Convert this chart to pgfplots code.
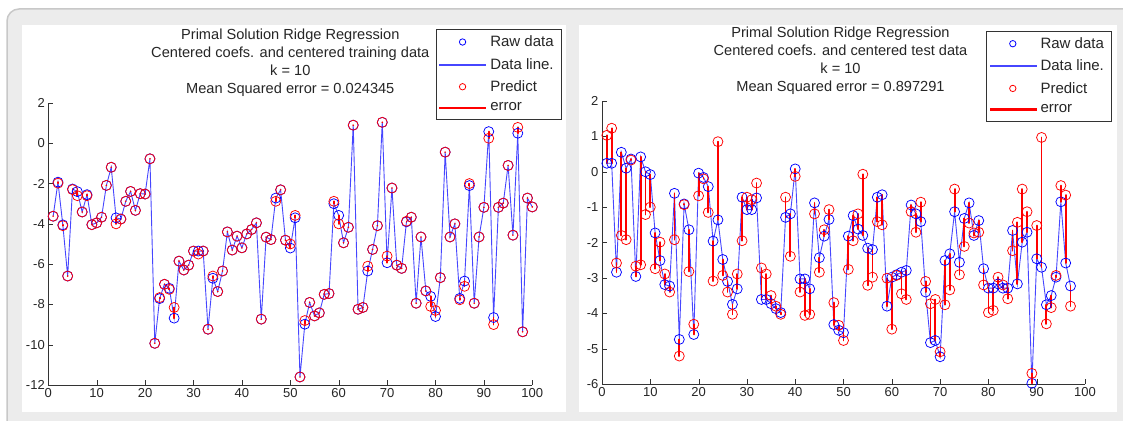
\documentclass[border=0pt]{standalone}
\usepackage{pgfplots}
\usepackage{pgfplotstable}
\usepackage{fontspec}
\setmainfont{Liberation Sans}
\pgfplotsset{compat=1.18}

\pgfplotstableread{
x r p
1 -3.62 -3.62
2 -1.93 -1.98
3 -4.05 -4.09
4 -6.59 -6.59
5 -2.27 -2.30
6 -2.40 -2.60
7 -3.41 -3.41
8 -2.55 -2.60
9 -4.04 -4.04
10 -3.95 -3.95
11 -3.67 -3.67
12 -2.09 -2.09
13 -1.19 -1.19
14 -3.70 -4.00
15 -3.76 -3.76
16 -2.88 -2.88
17 -2.39 -2.39
18 -3.33 -3.33
19 -2.50 -2.50
20 -2.52 -2.52
21 -0.77 -0.77
22 -9.93 -9.93
23 -7.71 -7.66
24 -7.00 -7.00
25 -7.20 -7.25
26 -8.68 -8.15
27 -5.85 -5.85
28 -6.29 -6.29
29 -6.05 -6.05
30 -5.35 -5.35
31 -5.35 -5.50
32 -5.35 -5.35
33 -9.23 -9.23
34 -6.70 -6.59
35 -7.36 -7.36
36 -6.34 -6.34
37 -4.40 -4.40
38 -5.30 -5.30
39 -4.61 -4.61
40 -5.19 -5.19
41 -4.50 -4.50
42 -4.28 -4.28
43 -3.95 -3.95
44 -8.73 -8.73
45 -4.66 -4.66
46 -4.78 -4.78
47 -2.72 -2.88
48 -2.31 -2.31
49 -4.81 -4.81
50 -5.20 -5.00
51 -3.70 -3.58
52 -11.60 -11.60
53 -8.98 -8.80
54 -7.90 -7.90
55 -8.57 -8.57
56 -8.42 -8.42
57 -7.50 -7.50
58 -7.46 -7.46
59 -3.00 -2.88
60 -3.58 -4.00
61 -4.94 -4.94
62 -4.17 -4.17
63 0.90 0.90
64 -8.24 -8.24
65 -8.15 -8.15
66 -6.34 -6.10
67 -5.27 -5.27
68 -4.09 -4.09
69 1.04 1.04
70 -5.93 -5.60
71 -2.22 -2.22
72 -6.05 -6.05
73 -6.21 -6.21
74 -3.90 -3.87
75 -3.67 -3.67
76 -7.94 -7.94
77 -4.65 -4.65
78 -7.33 -7.33
79 -7.60 -8.10
80 -8.60 -8.30
81 -6.67 -6.67
82 -0.44 -0.44
83 -4.65 -4.65
84 -4.00 -4.00
85 -7.70 -7.77
86 -6.84 -7.10
87 -2.10 -2.00
88 -7.94 -7.94
89 -4.65 -4.65
90 -3.18 -3.18
91 0.58 0.25
92 -8.65 -9.00
93 -3.18 -3.18
94 -2.97 -2.97
95 -1.10 -1.10
96 -4.56 -4.56
97 0.50 0.79
98 -9.36 -9.36
99 -2.72 -2.72
100 -3.16 -3.16
}\traindata

\pgfplotstableread{
x r p
1 0.24 1.03
2 0.24 1.23
3 -2.84 -2.58
4 0.55 -1.80
5 0.10 -1.92
6 0.36 0.33
7 -2.96 -2.67
8 0.42 -2.63
9 0.00 -1.21
10 -0.08 -1.00
11 -1.73 -2.74
12 -2.51 -1.99
13 -3.19 -2.89
14 -3.23 -3.40
15 -0.61 -1.92
16 -4.74 -5.21
17 -0.91 -0.93
18 -1.64 -2.82
19 -4.60 -4.31
20 -0.04 -0.68
21 -0.16 -0.20
22 -0.42 -1.15
23 -1.96 -3.09
24 -1.36 0.85
25 -2.48 -2.93
26 -3.10 -3.40
27 -3.75 -4.03
28 -3.31 -2.89
29 -0.72 -1.95
30 -1.07 -0.72
31 -1.07 -0.79
32 -0.74 -0.32
33 -3.61 -2.72
34 -3.61 -2.89
35 -3.73 -3.50
36 -3.87 -3.80
37 -3.98 -4.03
38 -1.29 -0.72
39 -1.19 -2.39
40 0.08 -0.13
41 -3.03 -3.40
42 -3.03 -4.06
43 -3.31 -4.03
44 -0.88 -1.19
45 -2.43 -2.84
46 -1.82 -1.64
47 -1.35 -1.07
48 -4.32 -3.70
49 -4.48 -4.34
50 -4.55 -4.77
51 -1.82 -2.76
52 -1.24 -1.95
53 -1.62 -1.19
54 -1.80 -0.07
55 -2.16 -3.21
56 -2.20 -2.98
57 -0.72 -1.41
58 -0.65 -1.50
59 -3.80 -3.01
60 -2.98 -4.45
61 -2.91 -2.93
62 -2.84 -3.45
63 -2.79 -3.61
64 -0.94 -1.13
65 -1.19 -1.71
66 -1.41 -0.86
67 -3.40 -3.10
68 -4.83 -3.73
69 -4.77 -3.61
70 -5.23 -5.09
71 -2.51 -3.76
72 -2.32 -3.34
73 -1.13 -0.49
74 -2.56 -2.91
75 -1.32 -2.11
76 -0.88 -1.45
77 -1.80 -1.73
78 -1.38 -1.71
79 -2.74 -3.20
80 -3.29 -3.98
81 -3.29 -3.92
82 -3.17 -2.98
83 -3.29 -3.20
84 -3.29 -3.59
85 -1.66 -2.23
86 -3.17 -1.43
87 -1.99 -0.49
88 -1.71 -1.13
89 -5.98 -5.70
90 -2.46 -1.52
91 -2.70 0.97
92 -3.76 -4.30
93 -3.50 -3.84
94 -2.98 -2.93
95 -0.85 -0.39
96 -2.58 -0.66
97 -3.23 -3.80
}\testdata

\definecolor{lineblue}{RGB}{70,70,255}
\definecolor{errred}{RGB}{255,0,0}
\definecolor{framegray}{RGB}{200,200,200}
\definecolor{bggray}{RGB}{236,236,236}

% all red error segments of a table as one path (broken at nan)
\newcommand{\errsegs}[2]{%
  \gdef\segcoords{}%
  \pgfplotsforeachungrouped \ii in {0,...,#2}{%
    \pgfplotstablegetelem{\ii}{x}\of#1\let\ex\pgfplotsretval
    \pgfplotstablegetelem{\ii}{r}\of#1\let\er\pgfplotsretval
    \pgfplotstablegetelem{\ii}{p}\of#1\let\ep\pgfplotsretval
    \xdef\segcoords{\segcoords (\ex,\ep) (\ex,\er) (\ex,nan)}%
  }%
  \edef\tmp{\noexpand\addplot[forget plot, draw=errred, line width=1.8pt, line cap=round, mark=none, unbounded coords=jump] coordinates {\segcoords};}%
  \tmp
}

\pgfplotsset{
  panel/.style={
    scale only axis,
    anchor=south west,
    axis lines*=left,
    axis line style={black!80, -},
    tick align=inside,
    major tick length=5pt,
    tick style={black!80},
    xmin=0, xmax=100,
    xtick={0,10,...,100},
    /pgf/number format/assume math mode=true,
    tick label style={font=\fontsize{13}{13}\selectfont, text=black!85},
    title style={font=\fontsize{14.6}{18}\selectfont, align=center, text=black!85, yshift=-3pt},
    legend style={anchor=north east, draw=black!80, fill=white,
      font=\fontsize{15}{16}\selectfont, text=black!85,
      inner xsep=3pt, inner ysep=4pt, row sep=5pt, legend cell align=left,
      nodes={inner xsep=4.5pt, inner ysep=2.5pt}},
    clip=false,
  },
}

\newcommand{\mylegend}{%
  \addlegendimage{legend image code/.code={\draw[draw=blue, line width=0.8pt, mark=o, mark size=3.2pt] plot coordinates {(23pt,0pt)};}}
  \addlegendentry{Raw data}
  \addlegendimage{legend image code/.code={\fill[lineblue] (0pt,-0.5pt) rectangle (46pt,0.5pt);}}
  \addlegendentry{Data line.}
  \addlegendimage{legend image code/.code={\draw[draw=errred, line width=0.8pt, mark=o, mark size=3.2pt] plot coordinates {(23pt,0pt)};}}
  \addlegendentry{Predict}
  \addlegendimage{legend image code/.code={\fill[errred] (0pt,-0.9pt) rectangle (46pt,0.9pt);}}
  \addlegendentry{error}
}

\begin{document}
\begin{tikzpicture}[x=1pt,y=1pt]
\clip (0,0) rectangle (1123,-420);
\fill[white] (0,0) rectangle (1123,-420);
\draw[framegray, line width=1.5pt, fill=bggray, rounded corners=12pt] (7,-9) rectangle (1140,-440);
\fill[white] (22,-25) rectangle (566,-412);
\fill[white] (579,-25) rectangle (1117,-412);

% ---------- left panel ----------
\begin{axis}[panel,
  at={(48.3pt,-385pt)},
  width=484pt, height=282pt,
  ymin=-12, ymax=2,
  ytick={-12,-10,...,2},
  title={Primal Solution Ridge Regression\\Centered coefs. and centered training data\\k = 10\\Mean Squared error = 0.024345},
  legend style={at={(1.06,1.262)}},
]
\addplot[forget plot, draw=lineblue, line width=0.9pt, mark=none] table[x=x,y=r] {\traindata};
\addplot[forget plot, only marks, mark=o, mark size=5pt, draw=blue, line width=0.75pt] table[x=x,y=r] {\traindata};
\errsegs{\traindata}{99}
\addplot[forget plot, only marks, mark=o, mark size=5pt, draw=errred, line width=0.75pt] table[x=x, y=p] {\traindata};
\mylegend
\end{axis}

% ---------- right panel ----------
\begin{axis}[panel,
  at={(602pt,-384pt)},
  width=483pt, height=283pt,
  ymin=-6, ymax=2,
  ytick={-6,-5,...,2},
  title={Primal Solution Ridge Regression\\Centered coefs. and centered test data\\k = 10\\Mean Squared error = 0.897291},
  title style={xshift=-3pt},
  legend style={at={(1.055,1.248)}},
]
\addplot[forget plot, draw=lineblue, line width=0.9pt, mark=none] table[x=x,y=r] {\testdata};
\addplot[forget plot, only marks, mark=o, mark size=5pt, draw=blue, line width=0.75pt] table[x=x,y=r] {\testdata};
\errsegs{\testdata}{96}
\addplot[forget plot, only marks, mark=o, mark size=5pt, draw=errred, line width=0.75pt] table[x=x, y=p] {\testdata};
\mylegend
\end{axis}
\end{tikzpicture}
\end{document}
